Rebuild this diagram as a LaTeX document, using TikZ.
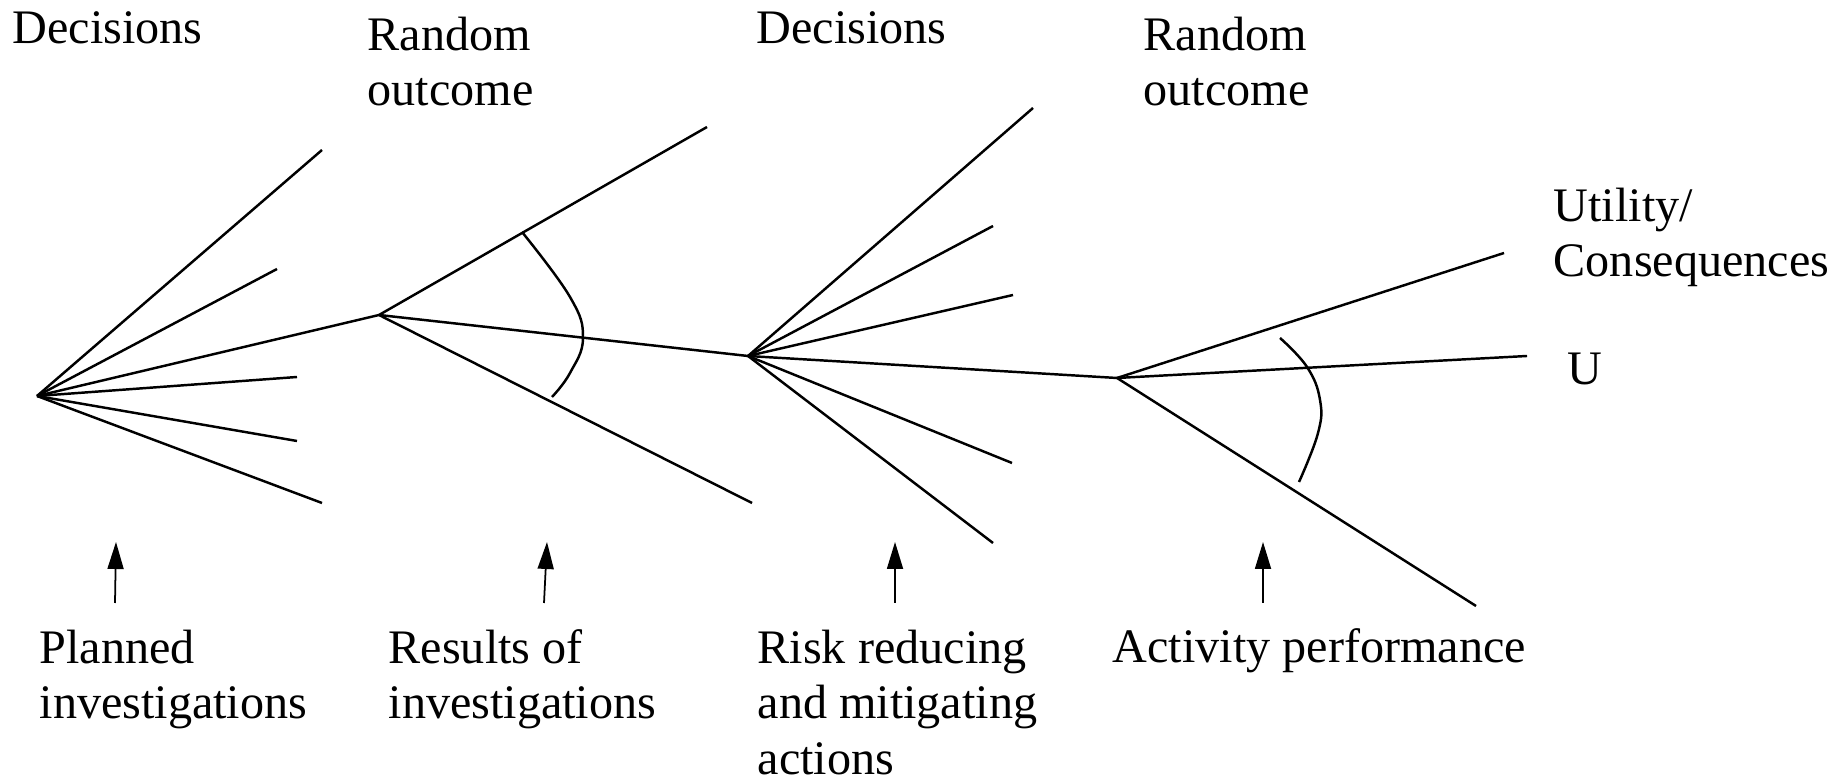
\documentclass[tikz,border=0pt]{standalone}
\usepackage{fontspec}
\setmainfont{Liberation Serif}
\usetikzlibrary{arrows.meta}

\begin{document}
\begin{tikzpicture}[
    x=1cm,y=1cm,
    branch/.style={line width=0.7pt},
    chance/.style={line width=0.7pt},
    pointer/.style={-{Triangle[width=1.6mm,length=2.7mm]},line width=0.5pt},
    lbl/.style={anchor=base west,inner sep=0pt,align=left,
        font=\fontsize{13.7pt}{15.8pt}\selectfont},
    ]
    \useasboundingbox (0,0) rectangle (18.43,7.83);

    % nodes of the tree
    \coordinate (d1) at (0.37,3.87);
    \coordinate (c1) at (3.79,4.68);
    \coordinate (d2) at (7.48,4.27);
    \coordinate (c2) at (11.17,4.05);

    % first decisions
    \foreach \ex/\ey [count=\i] in {3.22/6.33, 2.77/5.14, 2.97/4.06, 2.97/3.42, 3.22/2.80}
        \coordinate (d1e\i) at (\ex,\ey);
    \foreach \i in {1,...,5}
        \draw[branch] (d1) -- (d1e\i);
    \draw[branch] (d1) -- (c1);

    % first random outcome
    \coordinate (c1e1) at (7.07,6.56);
    \coordinate (c1e2) at (7.52,2.80);
    \draw[branch] (c1) -- (c1e1);
    \draw[branch] (c1) -- (c1e2);
    \draw[branch] (c1) -- (d2);
    \draw[chance] plot[smooth,tension=0.7] coordinates {
        (5.22,5.51) (5.70,4.86) (5.83,4.45) (5.70,4.10) (5.52,3.86)};

    % second decisions
    \foreach \ex/\ey [count=\i] in {10.33/6.75, 9.93/5.57, 10.13/4.88, 10.12/3.20, 9.93/2.40}
        \coordinate (d2e\i) at (\ex,\ey);
    \foreach \i in {1,...,5}
        \draw[branch] (d2) -- (d2e\i);
    \draw[branch] (d2) -- (c2);

    % second random outcome
    \coordinate (c2e1) at (15.04,5.30);
    \coordinate (c2e2) at (15.27,4.27);
    \coordinate (c2e3) at (14.76,1.77);
    \foreach \i in {1,2,3}
        \draw[branch] (c2) -- (c2e\i);
    \draw[chance] plot[smooth,tension=0.7] coordinates {
        (12.80,4.45) (13.07,4.16) (13.20,3.83) (13.18,3.50) (12.99,3.01)};

    % headings (base = last line)
    \node[lbl] (dec1) at (0.12,7.395) {Decisions};
    \node[lbl] (rnd1) at (3.67,6.77) {Random\\outcome};
    \node[lbl] (dec2) at (7.56,7.395) {Decisions};
    \node[lbl] (rnd2) at (11.43,6.77) {Random\\outcome};
    \node[lbl] (util) at (15.53,5.06) {Utility/\\Consequences};
    \node[lbl] (u) at (15.67,3.98) {U};

    % stages
    \node[lbl] (plan) at (0.39,0.643) {Planned\\investigations};
    \node[lbl] (res) at (3.88,0.643) {Results of\\investigations};
    \node[lbl] (risk) at (7.57,0.086) {Risk reducing\\and mitigating\\actions};
    \node[lbl] (act) at (11.12,1.20) {Activity performance};

    % arrows
    \foreach \ax/\bx [count=\i] in {1.15/1.16, 5.44/5.47, 8.95/8.95, 12.63/12.63} {
        \coordinate (a\i s) at (\ax,1.80);
        \coordinate (a\i t) at (\bx,2.41);
        \draw[pointer] (a\i s) -- (a\i t);
    }

\end{tikzpicture}
\end{document}
